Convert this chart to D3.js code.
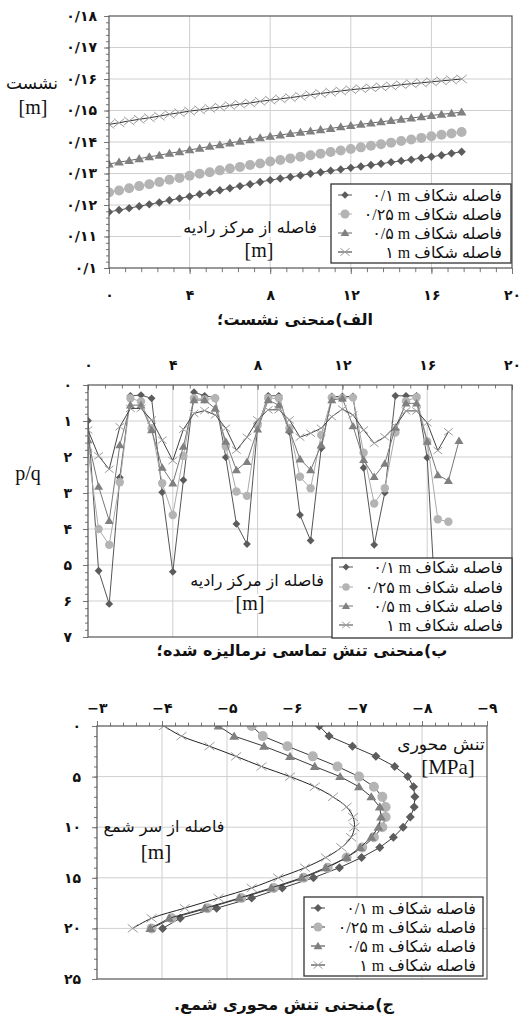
<!DOCTYPE html>
<html>
<head>
<meta charset="utf-8">
<script src="https://cdn.jsdelivr.net/npm/d3@7"></script>
<style>
body { margin: 0; background: #fff; }
svg text { font-family: "Liberation Serif", "DejaVu Sans", serif; fill: #111; }
.tick text { font-family: "DejaVu Sans", sans-serif; font-weight: bold; font-size: 14px; }
.fa { font-family: "DejaVu Sans", sans-serif; }
</style>
</head>
<body>
<svg width="520" height="1015"></svg>
<script>
// ---- shared ----
var seriesLabels = ["۰/۱ m", "۰/۲۵ m", "۰/۵ m", "۱ m"];
var legendWord = "فاصله شکاف";
var distTicks = [0, 4, 8, 12, 16, 20];
var distLabels = ["۰", "۴", "۸", "۱۲", "۱۶", "۲۰"];

// ---- الف) settlement ----
var settleX = [0,0.5,1,1.5,2,2.5,3,3.5,4,4.5,5,5.5,6,6.5,7,7.5,8,8.5,9,9.5,10,10.5,11,11.5,12,12.5,13,13.5,14,14.5,15,15.5,16,16.5,17,17.5];
var settle01 = [0.1178,0.1184,0.1190,0.1196,0.1202,0.1208,0.1215,0.1221,0.1227,0.1234,0.1240,0.1247,0.1253,0.1260,0.1266,0.1273,0.1279,0.1284,0.1289,0.1294,0.1299,0.1304,0.1309,0.1313,0.1318,0.1322,0.1327,0.1331,0.1336,0.1340,0.1344,0.1349,0.1353,0.1358,0.1364,0.1369];
var settle025 = [0.1240,0.1246,0.1253,0.1260,0.1266,0.1273,0.1280,0.1286,0.1293,0.1299,0.1304,0.1310,0.1316,0.1321,0.1327,0.1332,0.1338,0.1343,0.1348,0.1353,0.1358,0.1363,0.1368,0.1373,0.1378,0.1383,0.1388,0.1393,0.1398,0.1403,0.1408,0.1413,0.1418,0.1423,0.1427,0.1432];
var settle05 = [0.1330,0.1336,0.1341,0.1347,0.1353,0.1358,0.1364,0.1369,0.1375,0.1380,0.1386,0.1391,0.1397,0.1402,0.1407,0.1413,0.1418,0.1422,0.1427,0.1431,0.1435,0.1439,0.1443,0.1448,0.1452,0.1456,0.1460,0.1464,0.1468,0.1472,0.1476,0.1480,0.1484,0.1488,0.1491,0.1495];
var settle1 = [0.1456,0.1461,0.1467,0.1472,0.1477,0.1482,0.1488,0.1493,0.1498,0.1502,0.1507,0.1511,0.1516,0.1520,0.1524,0.1529,0.1533,0.1537,0.1541,0.1545,0.1550,0.1554,0.1558,0.1562,0.1566,0.1569,0.1572,0.1575,0.1578,0.1582,0.1585,0.1588,0.1591,0.1594,0.1597,0.1600];
var settleYTicks = [0.10, 0.11, 0.12, 0.13, 0.14, 0.15, 0.16, 0.17, 0.18];
var settleYLabels = ["۰/۱", "۰/۱۱", "۰/۱۲", "۰/۱۳", "۰/۱۴", "۰/۱۵", "۰/۱۶", "۰/۱۷", "۰/۱۸"];

// ---- ب) normalised contact stress ----
var contactX = [0,0.5,1,1.5,2,2.5,3,3.5,4,4.5,5,5.5,6,6.5,7,7.5,8,8.5,9,9.5,10,10.5,11,11.5,12,12.5,13,13.5,14,14.5,15,15.5,16,16.5,17,17.5];
var contact01 = [0.99,5.16,6.08,2.57,0.30,0.28,0.37,2.98,5.19,2.64,0.20,0.30,0.35,2.01,3.86,4.42,1.16,0.30,0.30,1.30,3.61,4.32,1.76,0.32,0.32,0.32,2.30,4.44,2.99,0.30,0.30,0.30,2.02,7.20];
var contact025 = [1.83,4.00,4.44,2.70,0.37,0.46,1.20,2.73,3.61,1.97,0.37,0.40,0.37,1.71,2.96,3.08,1.10,0.37,0.37,1.20,2.55,2.87,1.39,0.35,0.37,0.35,1.88,3.29,2.87,1.32,0.45,0.34,1.57,3.73,3.80];
var contact05 = [1.53,2.82,3.77,1.67,0.56,0.56,1.25,2.29,2.73,1.71,0.42,0.42,0.65,1.57,2.36,2.13,1.23,0.42,0.56,1.25,2.06,2.36,1.67,0.42,0.37,1.14,2.08,2.55,2.18,1.18,0.51,0.51,1.57,2.50,2.66,1.55];
var contact1 = [1.25,1.97,2.34,1.16,0.65,0.65,0.97,1.53,2.10,1.23,0.79,0.71,0.83,1.20,1.81,1.45,0.97,0.69,0.69,0.97,1.45,1.34,1.20,0.88,0.67,0.83,1.25,1.62,1.44,1.14,0.72,0.72,1.05,1.82,1.30];
var contactYTicks = [0, 1, 2, 3, 4, 5, 6, 7];
var contactYLabels = ["۰", "۱", "۲", "۳", "۴", "۵", "۶", "۷"];

// ---- ج) axial stress of pile ----
var depth = [0,1,2,3,4,5,6,7,8,9,10,11,12,13,14,15,16,17,18,19,20];
var axial01 = [-6.42,-6.57,-6.93,-7.29,-7.58,-7.78,-7.87,-7.89,-7.88,-7.82,-7.71,-7.56,-7.35,-7.07,-6.73,-6.33,-5.85,-5.38,-4.84,-4.28,-4.01];
var axial025 = [-5.38,-5.55,-5.93,-6.32,-6.70,-7.03,-7.26,-7.39,-7.44,-7.44,-7.39,-7.26,-7.08,-6.84,-6.55,-6.18,-5.72,-5.22,-4.70,-4.15,-3.84];
var axial05 = [-4.87,-5.11,-5.57,-5.97,-6.35,-6.74,-7.03,-7.22,-7.35,-7.37,-7.33,-7.22,-7.05,-6.84,-6.52,-6.15,-5.68,-5.19,-4.66,-4.11,-3.82];
var axial1 = [-4.03,-4.30,-4.73,-5.14,-5.53,-5.97,-6.35,-6.63,-6.84,-6.94,-6.96,-6.91,-6.76,-6.52,-6.20,-5.79,-5.38,-4.87,-4.35,-3.84,-3.55];
var axialTicks = [-3, -4, -5, -6, -7, -8, -9];
var axialLabels = ["−۳", "−۴", "−۵", "−۶", "−۷", "−۸", "−۹"];
var depthTicks = [0, 5, 10, 15, 20, 25];
var depthLabels = ["۰", "۵", "۱۰", "۱۵", "۲۰", "۲۵"];

var svg = d3.select("svg");

function markerPath(kind, r) {
    if (kind == "diamond") return "M0," + (-r) + "L" + r + ",0L0," + r + "L" + (-r) + ",0Z";
    if (kind == "circle") return d3.symbol(d3.symbolCircle, Math.PI * r * r)();
    if (kind == "triangle") return "M0," + (-r) + "L" + (r * 1.05) + "," + (r * 0.75) + "L" + (-r * 1.05) + "," + (r * 0.75) + "Z";
    return "M" + (-r) + "," + (-r * 0.8) + "L" + r + "," + (r * 0.8) + "M" + (-r) + "," + (r * 0.8) + "L" + r + "," + (-r * 0.8);
}

// marker looks, one per series
var looks = [
    { kind: "diamond", fill: "#5c5c5c", stroke: "none" },
    { kind: "circle", fill: "#b4b4b4", stroke: "none" },
    { kind: "triangle", fill: "#808080", stroke: "none" },
    { kind: "x", fill: "none", stroke: "#9c9c9c" }
];

function textLabel(g, x, y, txt, size, cls, bg) {
    var t = g.append("text").attr("x", x).attr("y", y)
        .attr("text-anchor", "middle").attr("font-size", size).text(txt);
    if (cls) t.attr("class", cls).attr("direction", "rtl");
    if (bg) {
        var b = t.node().getBBox();
        g.insert("rect", function () { return t.node(); })
            .attr("x", b.x - 2).attr("y", b.y + 2).attr("width", b.width + 4).attr("height", b.height - 3)
            .attr("fill", "#fff");
    }
    return t;
}

function drawPanel(p, id) {
    var g = svg.append("g");
    var x = d3.scaleLinear().domain(p.xDomain).range(p.xRange);
    var y = d3.scaleLinear().domain(p.yDomain).range(p.yRange);
    var L = p.xRange[0], R = p.xRange[1];
    var T = Math.min(p.yRange[0], p.yRange[1]), B = Math.max(p.yRange[0], p.yRange[1]);

    g.append("clipPath").attr("id", "clip" + id).append("rect")
        .attr("x", L).attr("y", T).attr("width", R - L).attr("height", B - T);

    // grid
    g.selectAll(".vg").data(p.xGrid).join("line")
        .attr("x1", function (d) { return x(d); }).attr("x2", function (d) { return x(d); })
        .attr("y1", T).attr("y2", B).attr("stroke", "#cfcfcf");
    g.selectAll(".hg").data(p.yGrid).join("line")
        .attr("y1", function (d) { return y(d); }).attr("y2", function (d) { return y(d); })
        .attr("x1", L).attr("x2", R).attr("stroke", "#cfcfcf");

    // axes
    var yAxis = d3.axisLeft(y).tickValues(p.yTicks)
        .tickFormat(function (d, i) { return p.yLabels[i]; }).tickSize(5).tickPadding(p.yPad);
    var ya = g.append("g").attr("transform", "translate(" + L + ",0)").call(yAxis);
    var yMinor = d3.axisLeft(y).tickValues(p.yMinor).tickFormat("").tickSize(3);
    var ym = g.append("g").attr("transform", "translate(" + L + ",0)").call(yMinor);

    var xAxis, xMinor, xPos;
    if (p.xTop) {
        xAxis = d3.axisTop(x); xMinor = d3.axisTop(x); xPos = T;
    } else {
        xAxis = d3.axisBottom(x); xMinor = d3.axisBottom(x); xPos = B;
    }
    xAxis.tickValues(p.xTicks).tickFormat(function (d, i) { return p.xLabels[i]; })
        .tickSizeInner(p.xTickSize).tickSizeOuter(0).tickPadding(p.xPad);
    xMinor.tickValues(p.xMinor).tickFormat("").tickSizeInner(p.xTickSize * 0.7).tickSizeOuter(0);
    var xa = g.append("g").attr("transform", "translate(0," + xPos + ")").call(xAxis);
    var xm = g.append("g").attr("transform", "translate(0," + xPos + ")").call(xMinor);
    [ya, ym, xa, xm].forEach(function (a) {
        a.select(".domain").remove();
        a.selectAll("line").attr("stroke", "#777");
        a.selectAll("text").attr("fill", "#111");
    });

    // labels inside plot
    p.labels.forEach(function (l) { textLabel(g, l.x, l.y, l.text, l.size, l.cls, l.bg); });

    // series
    var plot = g.append("g").attr("clip-path", "url(#clip" + id + ")");
    p.series.forEach(function (s, k) {
        var pts = s.ys.map(function (v, i) { return [s.xs[i], v]; });
        var line = d3.line()
            .x(function (d) { return x(p.swap ? d[1] : d[0]); })
            .y(function (d) { return y(p.swap ? d[0] : d[1]); })
            .curve(s.curve || d3.curveLinear);
        plot.append("path").datum(pts).attr("d", line)
            .attr("fill", "none").attr("stroke", s.line).attr("stroke-width", 1);
        var lk = looks[k];
        plot.selectAll(".m" + k).data(pts).join("path")
            .attr("transform", function (d) {
                return "translate(" + x(p.swap ? d[1] : d[0]) + "," + y(p.swap ? d[0] : d[1]) + ")";
            })
            .attr("d", markerPath(lk.kind, p.sizes[k]))
            .attr("fill", lk.fill).attr("stroke", lk.stroke).attr("stroke-width", 1);
    });

    // frame
    g.append("rect").attr("x", L).attr("y", T).attr("width", R - L).attr("height", B - T)
        .attr("fill", "none").attr("stroke", "#555").attr("stroke-width", 1.2);

    // legend
    var lg = p.legend;
    g.append("rect").attr("x", lg.x).attr("y", lg.y).attr("width", lg.w).attr("height", lg.h)
        .attr("fill", "#fff").attr("stroke", "#333").attr("stroke-width", 1.3);
    seriesLabels.forEach(function (name, k) {
        var cy = lg.rows[k];
        g.append("line").attr("x1", lg.mx - 7).attr("x2", lg.mx + 7).attr("y1", cy).attr("y2", cy)
            .attr("stroke", p.series[k].line);
        g.append("path").attr("transform", "translate(" + lg.mx + "," + cy + ")")
            .attr("d", markerPath(looks[k].kind, p.sizes[k] * 0.9))
            .attr("fill", looks[k].fill).attr("stroke", looks[k].stroke);
        g.append("text").attr("x", lg.tx).attr("y", cy + 6).attr("text-anchor", "end")
            .attr("font-size", 16).text(name + "  " + legendWord);
    });

    // title
    textLabel(g, p.title.x, p.title.y, p.title.text, 16, "fa").attr("font-weight", "bold");
    return g;
}

function steps(a, b, s) { return d3.range(Math.round((b - a) / s) + 1).map(function (i) { return a + i * s; }); }

// ---------- panel الف ----------
drawPanel({
    xDomain: [0, 20], xRange: [109, 512], yDomain: [0.10, 0.18], yRange: [268, 16],
    xGrid: [4, 8, 12, 16], yGrid: [0.11, 0.12, 0.13, 0.14, 0.15, 0.16, 0.17],
    yTicks: settleYTicks, yLabels: settleYLabels, yPad: 7, yMinor: steps(0.10, 0.18, 0.002),
    xTicks: distTicks, xLabels: distLabels, xTickSize: 6, xPad: 16, xMinor: steps(0, 20, 0.8),
    sizes: [4.2, 5, 4.6, 5.2],
    series: [
        { xs: settleX, ys: settle01, line: "#555" },
        { xs: settleX, ys: settle025, line: "#b0b0b0" },
        { xs: settleX, ys: settle05, line: "#666" },
        { xs: settleX, ys: settle1, line: "#333" }
    ],
    labels: [
        { x: 32, y: 89, text: "نشست", size: 17, cls: "fa" },
        { x: 33, y: 114, text: "[m]", size: 20 },
        { x: 250, y: 233, text: "فاصله از مرکز رادیه", size: 16, cls: "fa", bg: true },
        { x: 259, y: 257, text: "[m]", size: 20, bg: true }
    ],
    legend: { x: 331, y: 184, w: 180, h: 79, rows: [195, 214, 233, 252], mx: 345, tx: 502 },
    title: { x: 295, y: 325, text: "الف)منحنی نشست؛" }
}, 1);

// ---------- panel ب ----------
drawPanel({
    xDomain: [0, 20], xRange: [88, 512], yDomain: [0, 7], yRange: [385, 637], xTop: true,
    xGrid: [4, 8, 12, 16], yGrid: [1, 2, 3, 4, 5, 6],
    yTicks: contactYTicks, yLabels: contactYLabels, yPad: 11, yMinor: steps(0, 7, 0.2),
    xTicks: distTicks, xLabels: distLabels, xTickSize: -5, xPad: 15, xMinor: steps(0, 20, 0.8),
    sizes: [3.9, 4.2, 4.3, 4.4],
    series: [
        { xs: contactX, ys: contact01, line: "#555" },
        { xs: contactX, ys: contact025, line: "#aaa" },
        { xs: contactX, ys: contact05, line: "#777" },
        { xs: contactX, ys: contact1, line: "#444" }
    ],
    labels: [
        { x: 28, y: 480, text: "p/q", size: 20 },
        { x: 257, y: 586, text: "فاصله از مرکز رادیه", size: 16, cls: "fa" },
        { x: 250, y: 610, text: "[m]", size: 20, bg: true }
    ],
    legend: { x: 332, y: 558, w: 180, h: 80, rows: [567, 587, 606, 625], mx: 346, tx: 503 },
    title: { x: 302, y: 656, text: "ب)منحنی تنش تماسی نرمالیزه شده؛" }
}, 2);

// ---------- panel ج ----------
drawPanel({
    xDomain: [-3, -9], xRange: [97, 487], yDomain: [0, 25], yRange: [726, 979], xTop: true, swap: true,
    xGrid: [-4, -5, -6, -7, -8], yGrid: [5, 10, 15, 20],
    yTicks: depthTicks, yLabels: depthLabels, yPad: 11, yMinor: steps(0, 25, 1),
    xTicks: axialTicks, xLabels: axialLabels, xTickSize: 5, xPad: 8, xMinor: steps(-9, -3, 0.2),
    sizes: [4.5, 5, 4.7, 5],
    series: [
        { xs: depth, ys: axial01, line: "#3a3a3a" },
        { xs: depth, ys: axial025, line: "#3a3a3a" },
        { xs: depth, ys: axial05, line: "#3a3a3a" },
        { xs: depth, ys: axial1, line: "#222", curve: d3.curveCatmullRom }
    ],
    labels: [
        { x: 441, y: 750, text: "تنش محوری", size: 17, cls: "fa" },
        { x: 448, y: 774, text: "[MPa]", size: 21 },
        { x: 164, y: 832, text: "فاصله از سر شمع", size: 16, cls: "fa" },
        { x: 156, y: 859, text: "[m]", size: 21 }
    ],
    legend: { x: 304, y: 897, w: 179, h: 79, rows: [908, 927, 946, 965], mx: 318, tx: 476 },
    title: { x: 284, y: 1010, text: "ج)منحنی تنش محوری شمع." }
}, 3);
</script>
</body>
</html>
